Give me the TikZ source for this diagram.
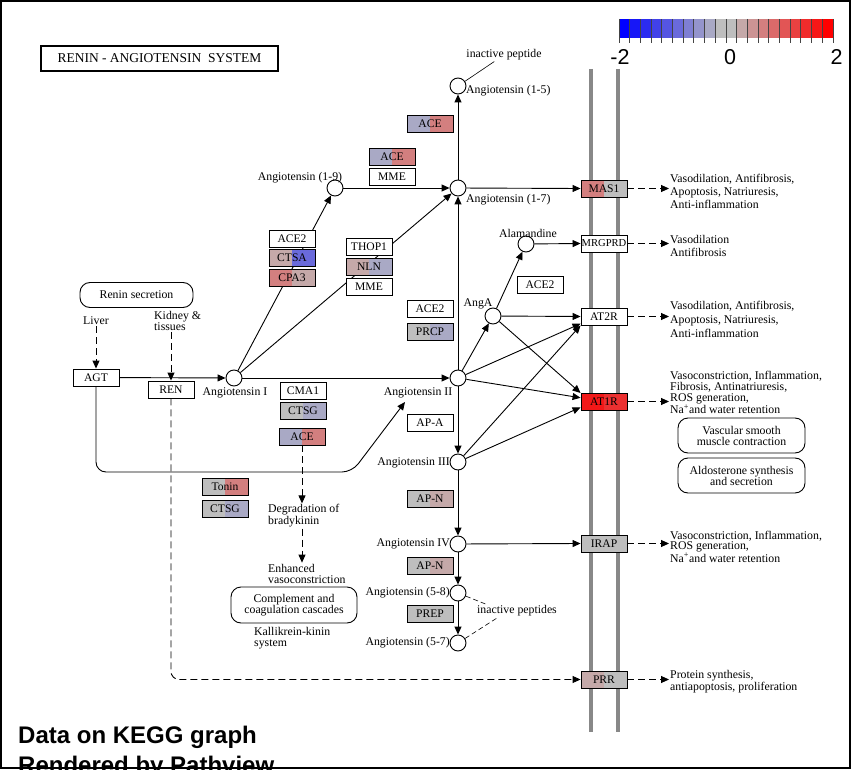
\documentclass[tikz,border=0pt]{standalone}
\usepackage{fontspec}
\setmainfont{Liberation Serif}
\newfontfamily\legendfont{Liberation Sans}
\usepackage{xcolor}
\usepackage{tikz}
\usetikzlibrary{arrows.meta,positioning,calc}
\definecolor{ink}{HTML}{000000}
\definecolor{cgray}{HTML}{BEBEBE}
\definecolor{cbl}{HTML}{A9A9C5}
\definecolor{cpk}{HTML}{C5A9A9}
\definecolor{crd}{HTML}{D37F7F}
\definecolor{cblue}{HTML}{6A6ADB}
\definecolor{catl}{HTML}{F21818}
\definecolor{catr}{HTML}{EC3030}
\definecolor{memgray}{HTML}{888888}
\definecolor{tickc}{HTML}{444444}
\newcommand\labfont{\fontsize{11.8}{12}\selectfont}
\newcommand\genefont{\fontsize{11.6}{12}\selectfont}
\tikzset{
  base/.style={draw=ink, line width=0.9pt},
  arr/.style={base, -{Triangle[length=8pt,width=7pt]}},
  darr/.style={arr, dash pattern=on 7pt off 4pt},
  thinl/.style={draw=ink, line width=0.6pt},
  cpd/.style={circle, draw=ink, fill=white, line width=0.9pt, minimum size=16pt, inner sep=0pt},
  gene/.style 2 args={draw=ink, line width=0.9pt, minimum width=46pt, minimum height=17pt,
    inner sep=0pt, font=\genefont,
    path picture={\fill[#1] (path picture bounding box.south west) rectangle (path picture bounding box.north);
                  \fill[#2] (path picture bounding box.north) rectangle (path picture bounding box.south east);}},
  lab/.style={text=ink, font=\labfont, inner sep=1pt},
  mapbox/.style={draw=ink, line width=0.9pt, rounded corners=10pt, align=center, inner sep=0pt},
  titlebox/.style={draw=ink, line width=2pt, minimum width=237pt, minimum height=25pt, font=\fontsize{13.5}{14}\selectfont},
  membrane/.style={draw=memgray, line width=4pt},
  tickmark/.style={draw=tickc, line width=0.9pt},
  keylab/.style={font=\legendfont\fontsize{21.5}{22}\selectfont, inner sep=0pt},
  legend/.style={font=\legendfont\bfseries\fontsize{24}{24}\selectfont, inner sep=0pt},
}

\begin{document}
\begin{tikzpicture}[x=1pt,y=-1pt]
\useasboundingbox (0,0) rectangle (854,770);

% title and colour key
\node[titlebox] (title) at (159.5,58.5) {RENIN - ANGIOTENSIN\ \ SYSTEM};
\foreach \i in {0,...,19}{
  \ifnum\i<10 \pgfmathtruncatemacro\p{100*(9-\i)/9}\def\hue{blue}\else
  \pgfmathtruncatemacro\p{100*(\i-10)/9}\def\hue{red}\fi
  \fill[\hue!\p!cgray] (619+\i*10.7,19) rectangle (629.7+\i*10.7,38);
}
\foreach \i in {0,...,20}{
  \draw[tickmark] (619+\i*10.7,19) -- (619+\i*10.7,43);
}
\foreach \n/\x/\t in {kmin/620/-2,kzero/730/0,kmax/836.5/2}{
  \node[keylab, anchor=base] (\n) at (\x,65) {\t};
}

% membrane
\draw[membrane] (591,69) -- (591,732);
\draw[membrane] (618,69) -- (618,732);

% compounds
\foreach \n/\x/\y in {A15/458/86, A17/458/188, A19/335/188, Alam/526/244, AngA/493/316,
  AI/234/378, AII/458/378, AIII/458/462, AIV/458/544, A58/458/593, A57/458/643}{
  \node[cpd] (\n) at (\x,\y) {};
}
\coordinate (toII) at (405,402);

\draw[arr] (AI) -- (A19);
\draw[arr] (AI) -- (A17);
\draw[arr] (AI) -- (AII);
\draw[arr] (A19) -- (A17);
\draw[arr] (A17) -- (A15);
\draw[arr] (AII) -- (A17);
\draw[arr] (AII) -- (AngA);
\draw[arr] (AngA) -- (Alam);
\draw[arr] (AII) -- (AIII);
\draw[arr] (AIII) -- (AIV);
\draw[arr] (AIV) -- (A58);
\draw[arr] (A58) -- (A57);

% enzymes and receptors
\foreach \n/\x/\y/\l/\r/\t in {
  aceA/430/124/cbl/crd/ACE, aceB/392/157/cbl/crd/ACE, mmeA/392/176.5/white/white/MME,
  ace2A/292/238.5/white/white/ACE2, ctsa/292/257.5/cpk/cblue/CTSA, cpa/292/277.5/crd/cpk/CPA3,
  thop/369/246.5/white/white/THOP1, nln/369/266.5/cpk/cbl/NLN, mmeB/369/286.5/white/white/MME,
  ace2B/540/284.5/white/white/ACE2, ace2C/430/308.5/white/white/ACE2, prcp/430/331.5/cgray/cbl/PRCP,
  cma/303/391/white/white/CMA1, ctsgA/303/410.5/cgray/cbl/CTSG, aceC/302/436.5/cbl/crd/ACE,
  apa/430/422.5/white/white/AP-A, apnA/430/498.5/cgray/cpk/AP-N, apnB/430/565.5/cgray/cpk/AP-N,
  prep/430/613.5/cgray/cgray/PREP, tonin/225/486.5/cgray/crd/Tonin, ctsgB/225/508.5/cgray/cbl/CTSG,
  agt/96/377.5/white/white/AGT, ren/171/389.5/white/white/REN,
  mas/604/188.5/crd/cgray/MAS1, mrg/604/243.5/white/white/{\fontsize{10.6}{11}\selectfont MRGPRD},
  at2/604/316.5/white/white/AT2R, at1/604/401.5/catl/catr/AT1R,
  irap/604/543.5/cgray/cgray/IRAP, prr/604/679.5/cpk/cgray/PRR}{
  \node[gene={\l}{\r}] (\n) at (\x,\y) {\t};
}

\draw[arr] (A17) -- (mas.west);
\draw[arr] (Alam) -- (mrg.west);
\draw[arr] (AngA) -- (at2.west);
\draw[arr] (AngA) -- (at1.160);
\draw[arr] (AII) -- (at2.197);
\draw[arr] (AII) -- (at1.171);
\draw[arr] (AIII) -- (at2.south west);
\draw[arr] (AIII) -- (at1.194);
\draw[arr] (AIV) -- (irap.west);
\draw[arr] (agt) -- (AI);
\draw[arr, rounded corners=10pt] (agt.south) |- (352,472) -- (toII);
\draw[darr, rounded corners=8pt] (ren.south) |- (prr.west);

% labels
\node[lab, anchor=west] (l15) at (465,91) {Angiotensin (1-5)};
\node[lab, anchor=west] (l17) at (465,200) {Angiotensin (1-7)};
\node[lab] (l19) at (300,178) {Angiotensin (1-9)};
\node[lab] (lalam) at (528,233) {Alamandine};
\node[lab] (langa) at (478,304) {AngA};
\node[lab] (lI) at (235,393) {Angiotensin I};
\node[lab] (lII) at (418,393) {Angiotensin II};
\node[lab, anchor=east] (lIII) at (451,463) {Angiotensin III};
\node[lab, anchor=east] (lIV) at (451,544) {Angiotensin IV};
\node[lab, anchor=east] (l58) at (451,593) {Angiotensin (5-8)};
\node[lab, anchor=east] (l57) at (451,643) {Angiotensin (5-7)};
\node[lab] (ipt) at (504,55) {inactive peptide};
\node[lab] (ips) at (517,611) {inactive peptides};
\coordinate (ipa) at (488,605);
\coordinate (ipb) at (497,618);
\draw[thinl] (A15) -- (ipt);
\draw[thinl, dash pattern=on 5pt off 3pt] (A58) -- (ipa);
\draw[thinl, dash pattern=on 5pt off 3pt] (A57) -- (ipb);

\node[lab] (liver) at (96,321) {Liver};
\node[lab, anchor=west, align=left, font=\fontsize{11.8}{11}\selectfont] (kidney) at (153,321) {Kidney \&\\tissues};
\draw[darr] (liver) -- (agt);
\draw[darr] (kidney.south -| ren.north) -- (ren.north);

\node[mapbox, minimum width=113pt, minimum height=25pt, font=\labfont] (renin) at (136.5,295) {Renin secretion};
\node[mapbox, minimum width=127pt, minimum height=35pt, font=\fontsize{11.8}{11}\selectfont] (vsmc) at (741.5,435.5) {Vascular smooth\\muscle contraction};
\node[mapbox, minimum width=127pt, minimum height=35pt, font=\fontsize{11.8}{11}\selectfont] (aldo) at (741.5,475.5) {Aldosterone synthesis\\and secretion};
\node[mapbox, minimum width=126pt, minimum height=36pt, font=\fontsize{11.8}{11}\selectfont] (compl) at (294,605) {Complement and\\coagulation cascades};

\node[lab, anchor=west, align=left, font=\fontsize{11.8}{12}\selectfont] (degr) at (267,516) {Degradation of\\bradykinin};
\node[lab, anchor=west, align=left, font=\fontsize{11.8}{11}\selectfont] (enh) at (267,573.5) {Enhanced\\vasoconstriction};
\node[lab, anchor=west, align=left, font=\fontsize{11.8}{11}\selectfont] (kallik) at (253,638.5) {Kallikrein-kinin\\system};
\draw[darr] (aceC.south) -- (aceC.south |- degr.north);
\draw[darr] (aceC.south |- degr.south) -- (aceC.south |- enh.north);

% effects
\node[lab, anchor=west, align=left, font=\fontsize{11.8}{13}\selectfont] (effMas) at (669,191) {Vasodilation, Antifibrosis,\\Apoptosis, Natriuresis,\\Anti-inflammation};
\node[lab, anchor=west, align=left, font=\fontsize{11.8}{13}\selectfont] (effMrg) at (669,245.5) {Vasodilation\\Antifibrosis};
\node[lab, anchor=west, align=left, font=\fontsize{11.8}{14}\selectfont] (effAt2) at (669,319) {Vasodilation, Antifibrosis,\\Apoptosis, Natriuresis,\\Anti-inflammation};
\node[lab, anchor=west, align=left, font=\fontsize{11.8}{11}\selectfont] (effAt1) at (669,392.5) {Vasoconstriction, Inflammation,\\Fibrosis, Antinatriuresis,\\ROS generation,\\Na\textsuperscript{+}and water retention};
\node[lab, anchor=west, align=left, font=\fontsize{11.8}{10.5}\selectfont] (effIrap) at (669,546.5) {Vasoconstriction, Inflammation,\\ROS generation,\\Na\textsuperscript{+}and water retention};
\node[lab, anchor=west, align=left, font=\fontsize{11.8}{12}\selectfont] (effPrr) at (669,682) {Protein synthesis,\\antiapoptosis, proliferation};
\foreach \g/\e in {mas/effMas, mrg/effMrg, at2/effAt2, at1/effAt1, irap/effIrap, prr/effPrr}{
  \draw[darr] (\g.east) -- (\g.east -| \e.west);
}

% legend
\node[legend, anchor=base west] (leg1) at (18,743) {Data on KEGG graph};
\node[legend, anchor=base west] (leg2) at (18,773) {Rendered by Pathview};

\draw[draw=ink, line width=2pt] (1,1) rectangle (850,768);
\end{tikzpicture}
\end{document}
